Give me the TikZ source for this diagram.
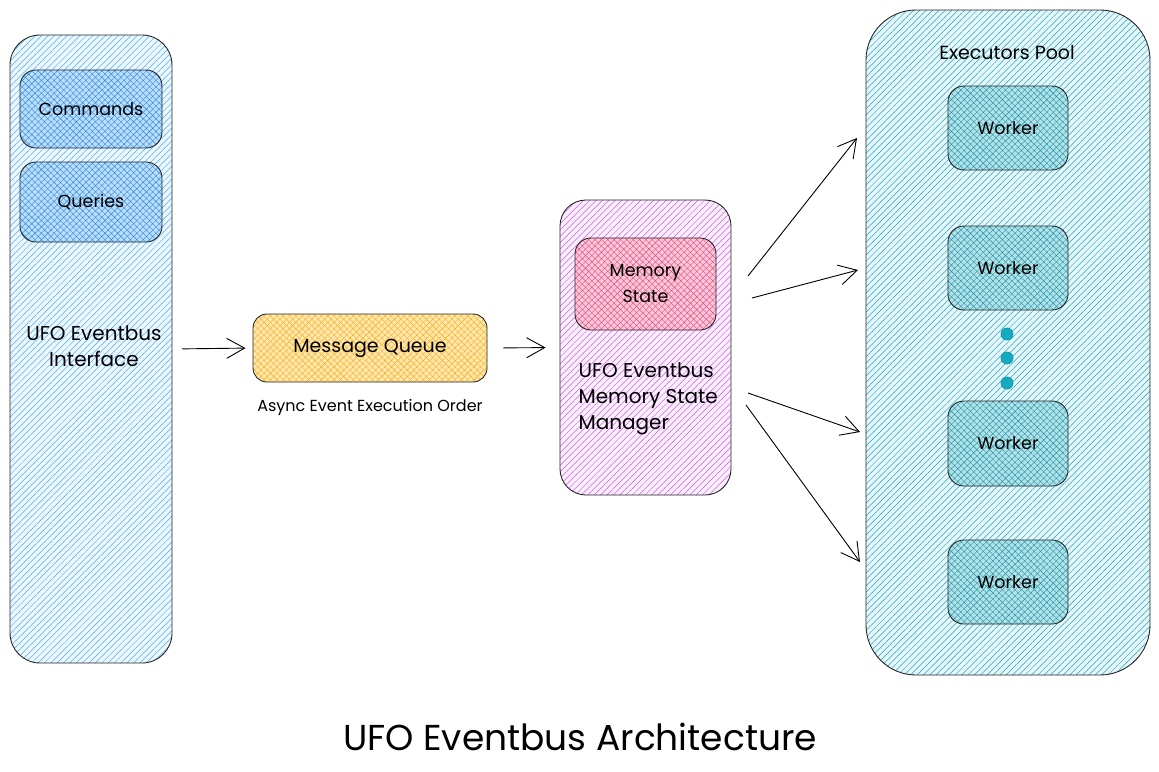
\documentclass[tikz,border=0pt]{standalone}
\usepackage{fontspec}
\setmainfont{Poppins}
\usetikzlibrary{arrows.meta,patterns.meta}
\definecolor{ifacec}{HTML}{4DABF7}
\definecolor{cmdc}{HTML}{228BE6}
\definecolor{queuec}{HTML}{FAB005}
\definecolor{mgrc}{HTML}{CC5DE8}
\definecolor{memc}{HTML}{E64980}
\definecolor{poolc}{HTML}{15AABF}
\definecolor{workc}{HTML}{1098AD}
\tikzset{
  shell/.style={draw=black!85,line width=0.9pt,rounded corners=30pt,inner sep=0pt,
    preaction={fill=#1!10},pattern={Lines[angle=45,distance=4.5pt,line width=0.5pt]},pattern color=#1},
  inbox/.style={draw=black!85,line width=0.9pt,rounded corners=16pt,inner sep=0pt,
    preaction={fill=#1!30},pattern={Hatch[angle=45,distance=4.5pt,line width=0.4pt]},pattern color=#1},
  lbl/.style={font=\fontsize{17.5}{26}\selectfont,align=center},
  big/.style={font=\fontsize{20}{26}\selectfont},
  arr/.style={-{Straight Barb[length=18pt,width=20pt]},line width=0.9pt},
  dot/.style={circle,fill=poolc,draw=workc,line width=0.8pt,minimum size=12pt,inner sep=0pt},
}

\begin{document}
\begin{tikzpicture}[x=1pt,y=-1pt]
    \useasboundingbox (0,0) rectangle (1159,771);

    % interface column
    \node[shell=ifacec,minimum width=162pt,minimum height=628pt] (iface) at (91,349) {};
    \node[inbox=cmdc,minimum width=142pt,minimum height=78pt,lbl] (cmds) at (91,109) {Commands};
    \node[inbox=cmdc,minimum width=142pt,minimum height=80pt,lbl] (qrys) at (91,202) {Queries};
    \node[big,align=center] (ifacetxt) at (94,346) {UFO Eventbus\\Interface};

    % queue
    \node[inbox=queuec,rounded corners=14pt,minimum width=234pt,minimum height=68pt,lbl,font=\fontsize{19}{24}\selectfont] (queue) at (370,348) {Message Queue};
    \node[font=\fontsize{16}{19}\selectfont] (qnote) at (370,407) {Async Event Execution Order};

    % memory state manager
    \node[shell=mgrc,rounded corners=26pt,minimum width=171pt,minimum height=295pt] (mgr) at (645.5,347.5) {};
    \node[inbox=memc,minimum width=141pt,minimum height=92pt,lbl] (mem) at (645.5,284) {Memory\\State};
    \node[big,align=left,anchor=west] (mgrtxt) at (575,399) {UFO Eventbus\\Memory State\\Manager};

    % executors pool
    \node[shell=poolc,rounded corners=50pt,minimum width=284pt,minimum height=665pt] (pool) at (1008,342.5) {};
    \node[font=\fontsize{19}{23}\selectfont] (pooltxt) at (1007,53) {Executors Pool};
    \node[inbox=workc,minimum width=120pt,minimum height=84pt,lbl] (wk1) at (1008,128) {Worker};
    \node[inbox=workc,minimum width=120pt,minimum height=84pt,lbl] (wk2) at (1008,268) {Worker};
    \node[inbox=workc,minimum width=120pt,minimum height=85pt,lbl] (wk3) at (1008,443.5) {Worker};
    \node[inbox=workc,minimum width=120pt,minimum height=84pt,lbl] (wk4) at (1008,582) {Worker};
    \foreach \y/\n in {334/a,358/b,383/c}
      \node[dot] (dot\n) at (1007,\y) {};

    % flow
    \draw[arr,shorten <=10pt,shorten >=7pt] (iface.east) -- (queue.west);
    \draw[arr,shorten <=16pt,shorten >=14pt] (queue.east) -- (mgr.west);

    \coordinate (out1) at (748,276);
    \coordinate (out2) at (752,298);
    \coordinate (out3) at (748,393);
    \coordinate (out4) at (746,405);
    \coordinate (in1) at (857,138);
    \coordinate (in2) at (858,270);
    \coordinate (in3) at (860,432);
    \coordinate (in4) at (860,562);
    \foreach \i in {1,...,4}
      \draw[arr] (out\i) -- (in\i);

    \node[font=\fontsize{36}{42}\selectfont] (title) at (580,737) {UFO Eventbus Architecture};
  \end{tikzpicture}
\end{document}
